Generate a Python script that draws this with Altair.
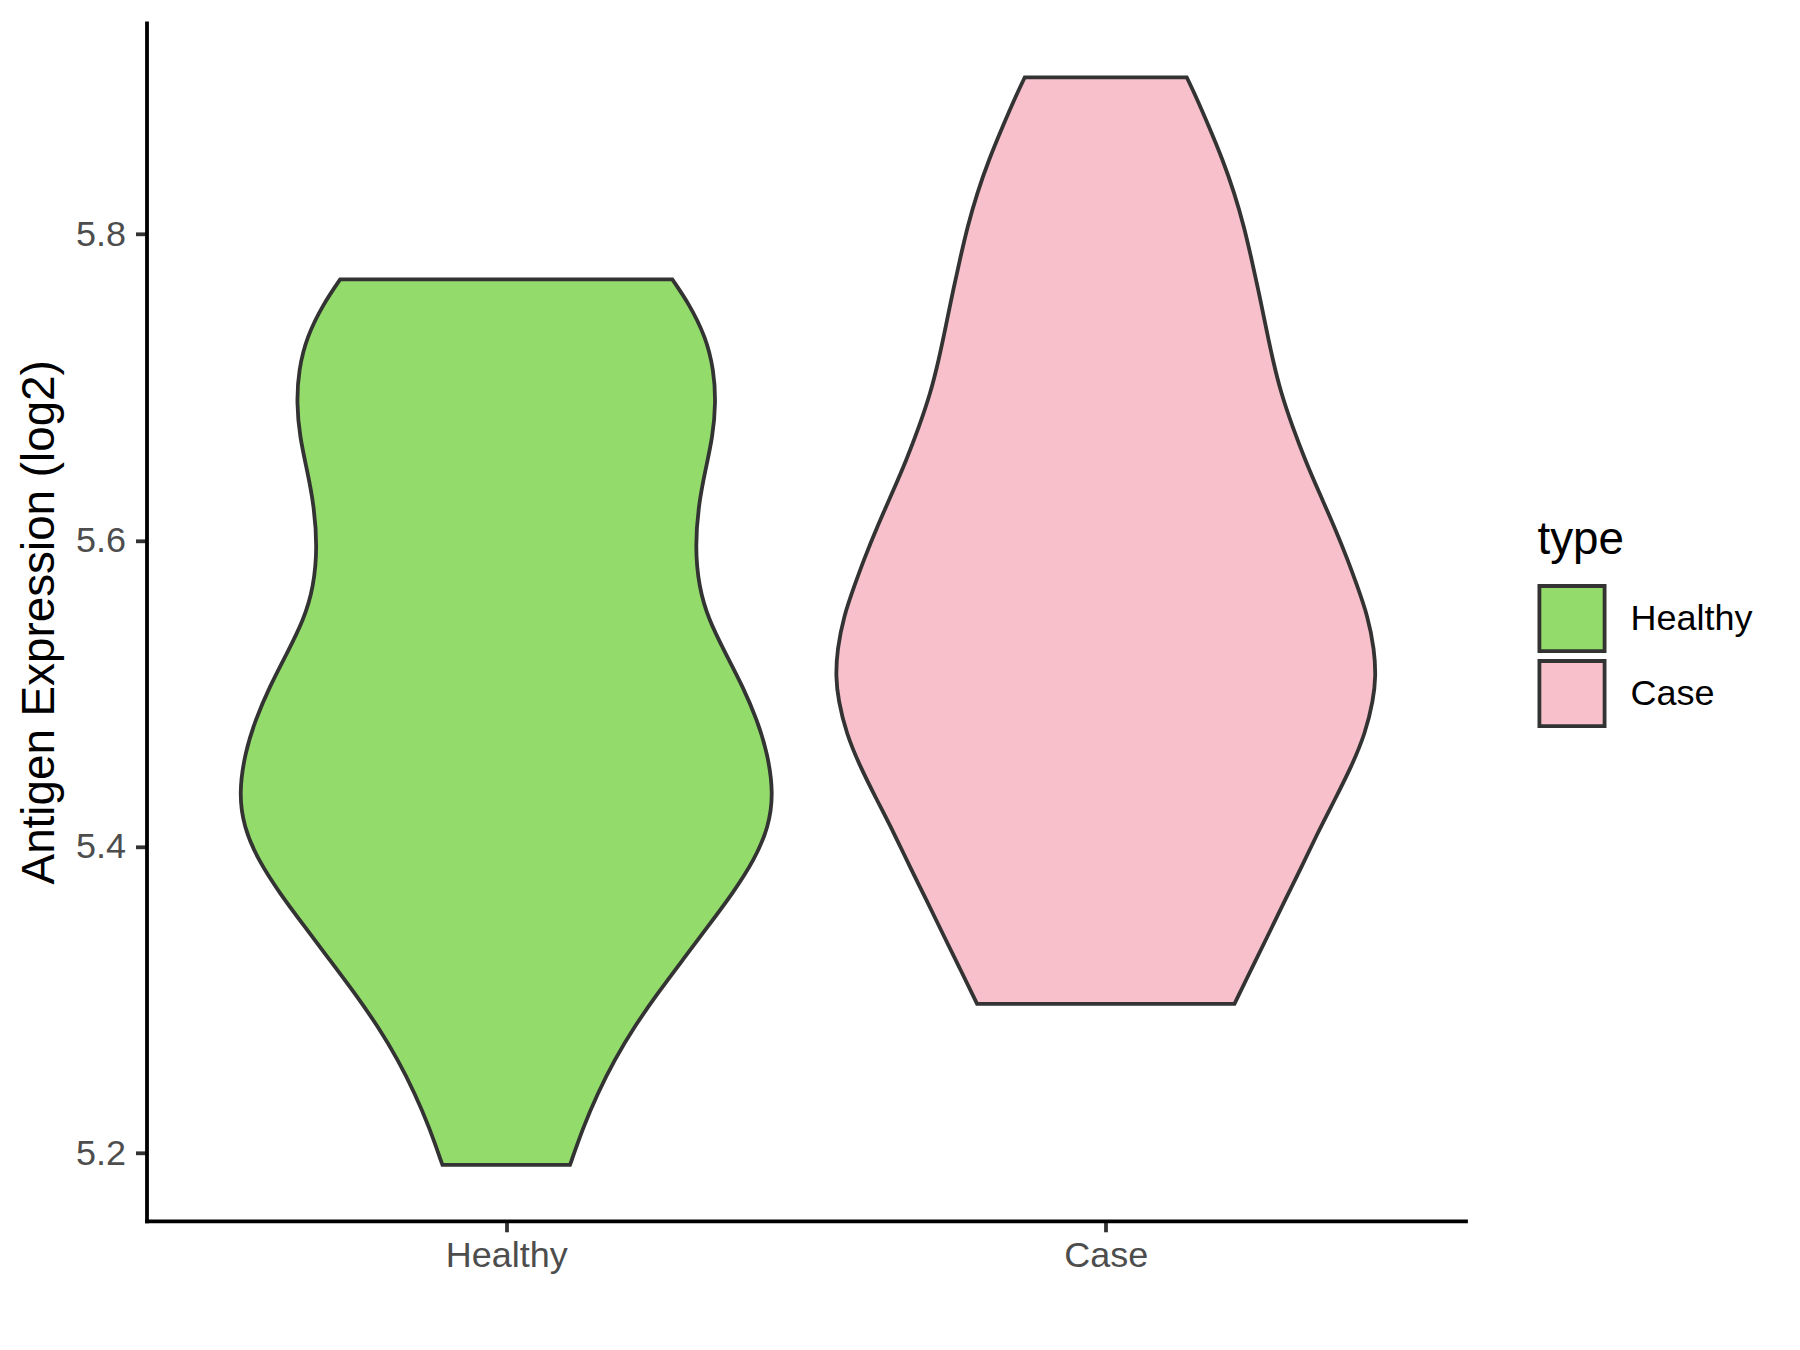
import altair as alt
import pandas as pd

# ---- data (violin outline: value vs half-width in category units) ----
categories = ["Healthy", "Case"]
category_pos = [1, 2]
fill_colors = ["#93DB6A", "#F7C0CB"]

healthy_value = [5.1923, 5.2173, 5.2391, 5.2608, 5.2826, 5.3044, 5.3261, 5.3478, 5.3696,
                 5.3914, 5.4131, 5.4349, 5.4610, 5.4828, 5.5045, 5.5263, 5.5480, 5.5698,
                 5.5959, 5.6242, 5.6460, 5.6677, 5.6895, 5.7112, 5.7330, 5.7548, 5.7704]
healthy_halfwidth = [0.1064, 0.1288, 0.1526, 0.1805, 0.2138, 0.2527, 0.2944, 0.3361, 0.3778,
                     0.4140, 0.4379, 0.4457, 0.4360, 0.4184, 0.3947, 0.3657, 0.3378, 0.3211,
                     0.3150, 0.3211, 0.3323, 0.3444, 0.3496, 0.3463, 0.3327, 0.3044, 0.2770]

case_value = [5.2974, 5.3217, 5.3435, 5.3653, 5.3870, 5.4088, 5.4305, 5.4523, 5.4741, 5.4958,
              5.5110, 5.5285, 5.5502, 5.5720, 5.5872, 5.6089, 5.6307, 5.6525, 5.6742, 5.6960,
              5.7178, 5.7395, 5.7613, 5.7830, 5.8048, 5.8266, 5.8483, 5.8700, 5.8918, 5.9023]
case_halfwidth = [0.2147, 0.2447, 0.2724, 0.2991, 0.3269, 0.3531, 0.3817, 0.4097, 0.4330, 0.4462,
                  0.4504, 0.4480, 0.4374, 0.4178, 0.4037, 0.3813, 0.3565, 0.3324, 0.3114, 0.2924,
                  0.2786, 0.2669, 0.2557, 0.2435, 0.2307, 0.2147, 0.1952, 0.1723, 0.1480, 0.1351]

y_ticks = [5.2, 5.4, 5.6, 5.8]

rows = []
for cat, pos, vals, hws in [("Healthy", 1, healthy_value, healthy_halfwidth),
                            ("Case", 2, case_value, case_halfwidth)]:
    for v, h in zip(vals, hws):
        rows.append({"type": cat, "value": v, "lo": pos - h, "hi": pos + h})
df = pd.DataFrame(rows)

FONT = "Liberation Sans"
LW = 3.8

chart = alt.Chart(df).mark_area(
    orient="horizontal",
    interpolate="basis",
    stroke="#333333",
    strokeWidth=LW,
    fillOpacity=1,
    strokeJoin="miter",
).encode(
    y=alt.Y(
        "value:Q",
        scale=alt.Scale(domain=[5.1558, 5.9379], nice=False, zero=False),
        axis=alt.Axis(
            values=y_ticks, format=".1f",
            title="Antigen Expression (log2)",
            titleFont=FONT, titleFontSize=45.8, titleFontWeight="normal", titleColor="black",
            titlePadding=12,
            labelFont=FONT, labelFontSize=36, labelColor="#4D4D4D", labelPadding=10,
            tickSize=11, tickWidth=LW, tickColor="#333333",
            domainColor="black", domainWidth=LW, domainCap="square",
            grid=False,
        ),
    ),
    x=alt.X(
        "lo:Q",
        scale=alt.Scale(domain=[0.4, 2.6], nice=False, zero=False),
        axis=alt.Axis(
            values=category_pos,
            labelExpr="datum.value == 1 ? 'Healthy' : 'Case'",
            title=None,
            labelFont=FONT, labelFontSize=36, labelColor="#4D4D4D", labelPadding=6.7,
            tickSize=11, tickWidth=LW, tickColor="#333333",
            domainColor="black", domainWidth=LW, domainCap="square",
            grid=False,
        ),
    ),
    x2="hi:Q",
    fill=alt.Fill(
        "type:N",
        scale=alt.Scale(domain=categories, range=fill_colors),
        legend=alt.Legend(
            title="type", orient="none", legendX=1391, legendY=495.5,
            titleFont=FONT, titleFontSize=45.8, titleFontWeight="normal", titleColor="black",
            titlePadding=20, padding=0,
            labelFont=FONT, labelFontSize=36, labelColor="black", labelOffset=24,
            symbolType="square", symbolSize=4250, symbolStrokeColor="#333333",
            symbolStrokeWidth=LW, symbolOpacity=1, rowPadding=-9.4,
        ),
    ),
).properties(
    width=1319,
    height=1198,
    background="white",
    padding={"left": 138.5, "top": 14.8, "right": 300, "bottom": 100},
    autosize=alt.AutoSizeParams(type="none"),
).configure_view(stroke=None)

chart.save("out.html", embed_options={"renderer": "svg", "actions": False})
